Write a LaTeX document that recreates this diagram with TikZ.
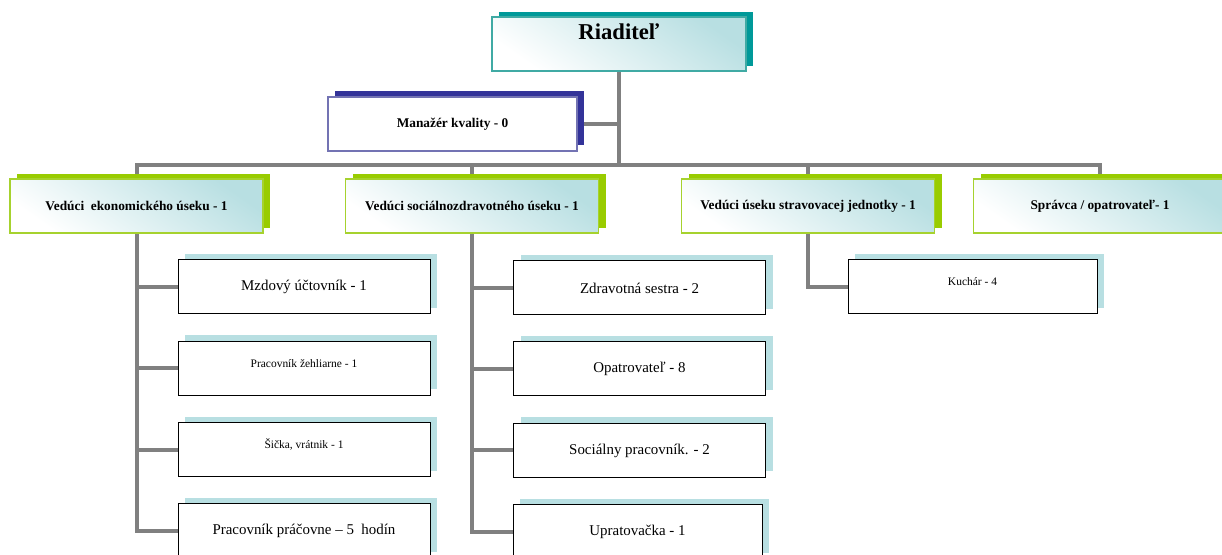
\documentclass[tikz,border=0pt]{standalone}
\usepackage{fontspec}
\setmainfont{Liberation Serif}
\usetikzlibrary{shadows,backgrounds}
\definecolor{linkgray}{HTML}{808080}
\definecolor{dirteal}{HTML}{009999}
\definecolor{dirline}{HTML}{40AAA4}
\definecolor{qmnavy}{HTML}{333399}
\definecolor{qmline}{HTML}{7373B3}
\definecolor{headgreen}{HTML}{99CC00}
\definecolor{headline}{HTML}{A6D22E}
\definecolor{paleblue}{HTML}{B8DFE2}

\begin{document}
\begin{tikzpicture}[x=0.75pt, y=-0.75pt,
	link/.style={draw=linkgray, line width=3pt},
	grad/.style={top color=paleblue, bottom color=white, shading angle=-35},
	boss/.style={grad, draw=dirline, line width=0.8pt, inner sep=0pt,
		minimum width=190.5pt, minimum height=40.5pt,
		general shadow={fill=dirteal, shadow xshift=5.25pt, shadow yshift=3.75pt},
		font=\fontsize{17}{19}\selectfont\bfseries, text height=11pt, text depth=18pt},
	qmbox/.style={fill=white, draw=qmline, line width=0.8pt, inner sep=0pt,
		minimum width=186.75pt, minimum height=40.5pt,
		general shadow={fill=qmnavy, shadow xshift=5.25pt, shadow yshift=4.5pt},
		font=\fontsize{10}{12}\selectfont\bfseries},
	headbox/.style={grad, draw=headline, line width=0.8pt, inner sep=0pt,
		minimum width=189.75pt, minimum height=40.5pt,
		general shadow={fill=headgreen, shadow xshift=5.25pt, shadow yshift=3.75pt},
		font=\fontsize{10}{12}\selectfont\bfseries},
	staffbox/.style={fill=white, draw=black, line width=0.75pt, inner sep=0pt,
		minimum width=189pt, minimum height=40.5pt,
		general shadow={fill=paleblue, shadow xshift=5.25pt, shadow yshift=4.5pt},
		font=\fontsize{11.2}{13}\selectfont},
	smalltext/.style={font=\fontsize{8.6}{10}\selectfont, text height=6pt, text depth=8pt}]
	%%%%% START %%%%%
	\useasboundingbox (0,0) rectangle (1222,555);
	
	\node[boss] (dir) at (619,44) {Riaditeľ};
	\node[qmbox] (qm) at (452.5,124) {Manažér kvality - 0};
	
	\node[headbox] (ekon) at (136.5,206) {Vedúci\ \ ekonomického úseku - 1};
	\node[headbox] (soc) at (472,206) {Vedúci sociálnozdravotného úseku - 1};
	\node[headbox] (strav) at (808,206) {Vedúci úseku stravovacej jednotky - 1};
	\node[headbox] (sprav) at (1100,206) {Správca / opatrovateľ- 1};
	
	\node[staffbox] (mzd) at (304,287) {Mzdový účtovník - 1};
	\node[staffbox, smalltext] (zeh) at (304,368.5) {Pracovník žehliarne - 1};
	\node[staffbox, smalltext] (sic) at (304,450) {Šička, vrátnik - 1};
	\node[staffbox] (prac) at (304,531) {Pracovník práčovne – 5\ \ hodín};
	
	\node[staffbox] (zdr) at (639.5,288) {Zdravotná sestra - 2};
	\node[staffbox] (opat) at (639.5,369) {Opatrovateľ - 8};
	\node[staffbox] (sprac) at (639.5,450.5) {Sociálny pracovník. - 2};
	\node[staffbox, minimum width=186.75pt] (upr) at (637.5,532) {Upratovačka - 1};
	
	\node[staffbox, smalltext, minimum width=186.75pt] (kuch) at (972.5,287) {Kuchár - 4};
	
	% lines behind the boxes
	\begin{scope}[on background layer]
		\coordinate (bar) at (619,165);
		\draw[link] (dir.south) -- (bar);
		\draw[link] (qm.east) -- (qm.east -| dir.south);
		\draw[link] (ekon.north) |- (bar) -| (sprav.north);
		\draw[link] (soc.north |- bar) -- (soc.north);
		\draw[link] (strav.north |- bar) -- (strav.north);
		\foreach \s in {mzd,zeh,sic,prac}
			\draw[link] (ekon.south) |- (\s.west);
		\foreach \s in {zdr,opat,sprac,upr}
			\draw[link] (soc.south) |- (\s.west);
		\draw[link] (strav.south) |- (kuch.west);
	\end{scope}
	%%%%% END %%%%%
\end{tikzpicture}
\end{document}
